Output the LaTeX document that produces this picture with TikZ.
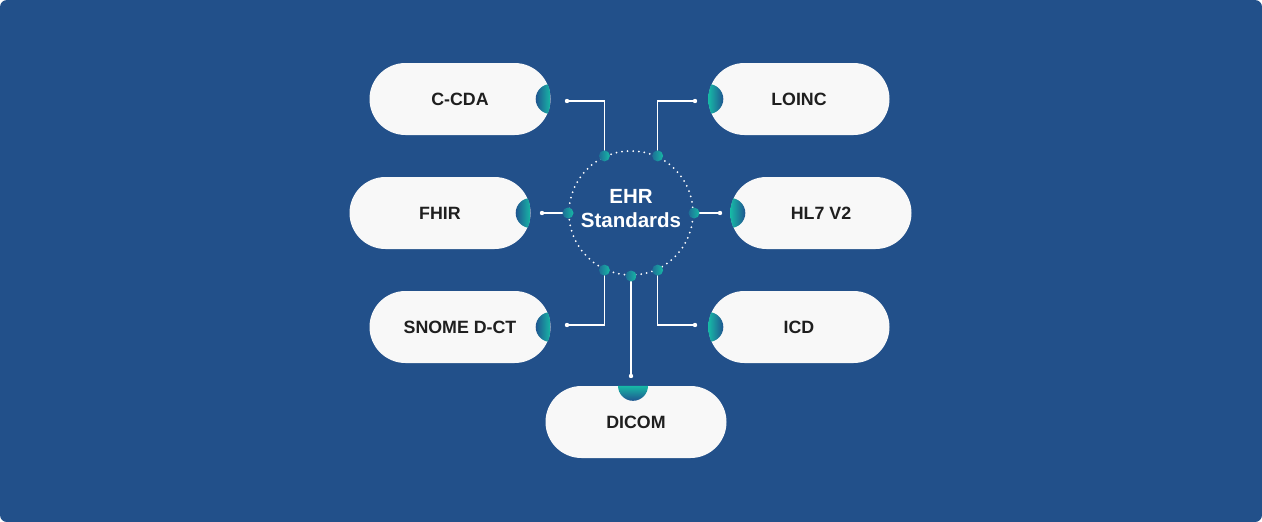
\documentclass[tikz,border=0pt]{standalone}
\usepackage{fontspec}
\setmainfont{Liberation Sans}
\usetikzlibrary{positioning}
\definecolor{bgblue}{HTML}{22508A}
\definecolor{pillwhite}{HTML}{F8F8F8}
\definecolor{tealdot}{HTML}{17B9A6}
\definecolor{bumpdark}{HTML}{1F5590}
\definecolor{dotdark}{HTML}{1D6F96}

\begin{document}
\begin{tikzpicture}[
        x=1pt, y=-1pt,
        pill/.style={fill=pillwhite, rounded corners=36pt, minimum width=181pt, minimum height=72pt,
            inner sep=0pt, text=black!88, font=\fontsize{17.8}{20}\selectfont\bfseries},
        hubring/.style={circle, draw=white, line width=2pt, dash pattern=on 0pt off 5.6pt, line cap=round,
            minimum size=124pt, inner sep=0pt},
        hubtext/.style={text=white, align=center, font=\fontsize{20.5}{24}\selectfont\bfseries},
        link/.style={white, line width=1.1pt},
        enddot/.style={fill=white},
        hubdot/.style={left color=dotdark, right color=tealdot}
    ]

    % ==========================================
    % BACKGROUND
    % ==========================================
    \fill[white] (0,0) rectangle (1262,522);
    \fill[bgblue, rounded corners=7pt] (0,0) rectangle (1262,522);

    % ==========================================
    % PILLS
    % ==========================================
    \node[pill] (ccda)  at (460,99) {C-CDA};
    \node[pill] (loinc) at (799,99) {LOINC};
    \node[pill] (fhir)  at (440,213) {FHIR};
    \node[pill] (hl)    at (821,213) {HL7 V2};
    \node[pill] (snome) at (460,327) {SNOME D-CT};
    \node[pill] (icd)   at (799,327) {ICD};
    \node[pill] (dicom) at (636,422) {DICOM};

    % bumps on the right side
    \foreach \p in {ccda, fhir, snome} {
        \begin{scope}
            \clip[rounded corners=36pt] (\p.south west) rectangle (\p.north east);
            \clip (\p.east) circle[radius=15pt];
            \shade[left color=bumpdark, right color=tealdot]
                ([xshift=-15pt, yshift=15pt]\p.east) rectangle ([yshift=-15pt]\p.east);
        \end{scope}
    }
    % bumps on the left side
    \foreach \p in {loinc, hl, icd} {
        \begin{scope}
            \clip[rounded corners=36pt] (\p.south west) rectangle (\p.north east);
            \clip (\p.west) circle[radius=15pt];
            \shade[left color=tealdot, right color=bumpdark]
                ([yshift=15pt]\p.west) rectangle ([xshift=15pt, yshift=-15pt]\p.west);
        \end{scope}
    }
    % bump on top
    \begin{scope}
        \coordinate (dtop) at ([xshift=-3pt]dicom.north);
        \clip[rounded corners=36pt] (dicom.south west) rectangle (dicom.north east);
        \clip (dtop) circle[radius=15pt];
        \shade[top color=tealdot, bottom color=bumpdark]
            ([xshift=-15pt]dtop) rectangle ([xshift=15pt, yshift=-15pt]dtop);
    \end{scope}

    % ==========================================
    % HUB
    % ==========================================
    \node[hubring] (hub) at (631,213) {};
    \node[hubtext] (title) at (631,209) {EHR\\Standards};

    \coordinate (e1) at (567,101);
    \coordinate (e2) at (695,101);
    \coordinate (e3) at (hub.180 -| 542,0);
    \coordinate (e4) at (hub.0 -| 720,0);
    \coordinate (e5) at (567,325);
    \coordinate (e6) at (695,325);
    \coordinate (e7) at (hub.270 |- 0,376);

    % connectors
    \draw[link] (hub.115) |- (e1);
    \draw[link] (hub.65)  |- (e2);
    \draw[link] (hub.180) -- (e3);
    \draw[link] (hub.0)   -- (e4);
    \draw[link] (hub.245) |- (e5);
    \draw[link] (hub.295) |- (e6);
    \draw[link] (hub.270) -- (e7);

    \foreach \e in {e1, e2, e3, e4, e5, e6, e7}
        \fill[enddot] (\e) circle[radius=2.2pt];

    \foreach \a in {115, 65, 180, 0, 245, 295, 270}
        \shade[hubdot] (hub.\a) circle[radius=5.5pt];

\end{tikzpicture}
\end{document}
